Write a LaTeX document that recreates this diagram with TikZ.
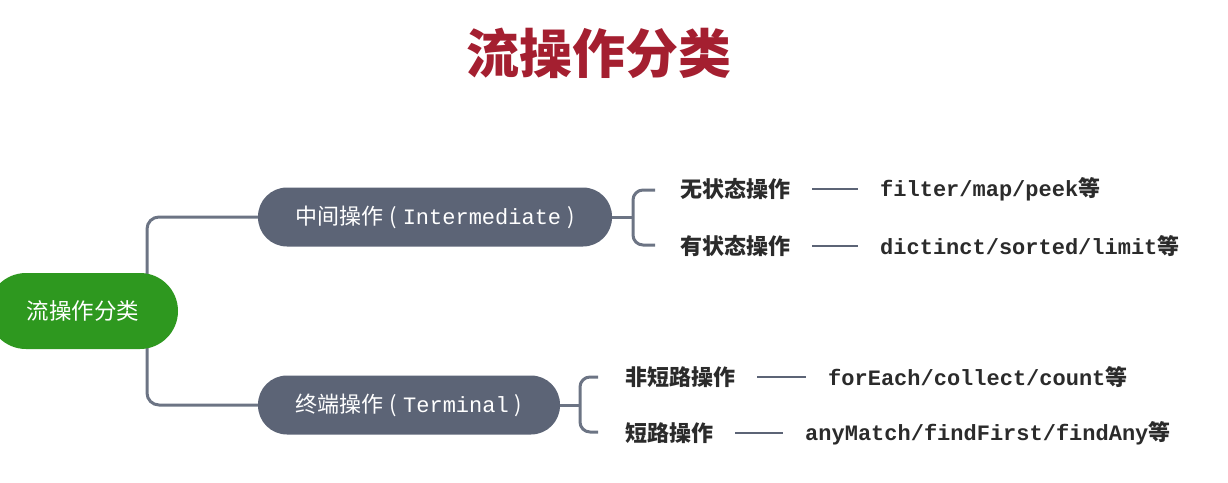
\documentclass[tikz,border=0pt]{standalone}
\usepackage{fontspec}
\setmainfont{Noto Sans CJK SC}
\setmonofont{Liberation Mono}
\usetikzlibrary{backgrounds}
\definecolor{titlered}{HTML}{A41F30}
\definecolor{rootgreen}{HTML}{2E981F}
\definecolor{slate}{HTML}{5C6476}
\definecolor{ink}{HTML}{2B2B2B}
\newcommand{\pgap}{\hspace{6pt}}
\tikzset{
  pill/.style={fill=slate,text=white,rounded corners=29pt,minimum height=59pt,
    inner sep=0pt,font=\fontsize{22}{26}\selectfont},
  leaf/.style={anchor=west,inner sep=0pt,text=ink,font=\fontsize{22}{26}\selectfont\bfseries},
  eg/.style={anchor=west,inner sep=0pt,text=ink,font=\fontsize{22}{26}\selectfont\bfseries},
  link/.style={draw=slate!90,line width=3pt,rounded corners=12pt},
  dashline/.style={draw=slate,line width=2.2pt,shorten <=22pt,shorten >=22pt}
}
\begin{document}
\begin{tikzpicture}[x=1pt,y=-1pt]
  \useasboundingbox (0,0) rectangle (1228,482);
  % title
  \node[text=titlered,font=\fontsize{53}{60}\selectfont\bfseries] (title) at (599,53) {流操作分类};
  % root and the two groups
  \node[fill=rootgreen,text=white,rounded corners=38pt,minimum width=190pt,
    minimum height=76pt,inner sep=0pt,font=\fontsize{22.5}{26}\selectfont] (root) at (83,311) {流操作分类};
  \node[pill,minimum width=354pt] (inter) at (435,217) {中间操作\pgap(\pgap\texttt{Intermediate}\pgap)};
  \node[pill,minimum width=302pt] (term) at (409,405) {终端操作\pgap(\pgap\texttt{Terminal}\pgap)};
  \coordinate (trunk) at (147,311);
  \begin{scope}[on background layer]
    \draw[link] (inter.west) -| (trunk) |- (term.west);
  \end{scope}
  % intermediate branch
  \coordinate (ib) at (633,217);
  \coordinate (ib1) at (655,190);
  \coordinate (ib2) at (655,245);
  \draw[link,rounded corners=0pt] (inter.east) -- (ib);
  \draw[link,rounded corners=10pt] (ib1) -| (ib) |- (ib2);
  \node[leaf] (nostate) at (680,189) {无状态操作};
  \node[leaf] (state) at (680,246) {有状态操作};
  \node[eg] (nostateeg) at (880,189) {\texttt{filter/map/peek}等};
  \node[eg] (stateeg) at (880,246) {\texttt{dictinct/sorted/limit}等};
  \draw[dashline] (nostate) -- (nostateeg);
  \draw[dashline] (state) -- (stateeg);
  % terminal branch
  \coordinate (tb) at (580,405);
  \coordinate (tb1) at (598,377);
  \coordinate (tb2) at (598,432);
  \draw[link,rounded corners=0pt] (term.east) -- (tb);
  \draw[link,rounded corners=10pt] (tb1) -| (tb) |- (tb2);
  \node[leaf] (nonshort) at (625,377) {非短路操作};
  \node[leaf] (short) at (625,433) {短路操作};
  \node[eg] (nonshorteg) at (828,377) {\texttt{forEach/collect/count}等};
  \node[eg] (shorteg) at (805,433) {\texttt{anyMatch/findFirst/findAny}等};
  \draw[dashline] (nonshort) -- (nonshorteg);
  \draw[dashline] (short) -- (shorteg);
\end{tikzpicture}
\end{document}
